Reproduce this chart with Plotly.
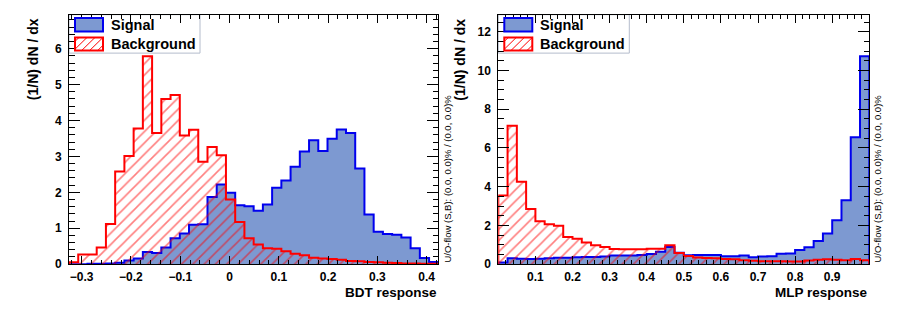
import numpy as np
import plotly.graph_objects as go

W, H = 899, 322

# ---------------- data ----------------
BDT_XMIN, BDT_XMAX = -0.3256, 0.4235
MLP_XMIN, MLP_XMAX = 0.0, 1.0
NBINS = 40

bdt_signal = [0.0, 0.0, 0.01, 0.01, 0.02, 0.04, 0.10, 0.16, 0.34, 0.31,
              0.46, 0.72, 0.85, 1.10, 1.11, 1.87, 2.22, 1.99, 1.64, 1.61,
              1.49, 1.66, 2.13, 2.33, 2.71, 3.14, 3.45, 3.15, 3.49, 3.75,
              3.65, 2.66, 1.38, 0.90, 0.84, 0.82, 0.74, 0.44, 0.17, 0.06]
bdt_background = [0.05, 0.27, 0.27, 0.46, 1.12, 2.58, 3.01, 3.78, 5.79, 3.65,
                  4.60, 4.71, 3.58, 3.74, 2.85, 3.26, 3.03, 1.80, 1.17, 0.72,
                  0.55, 0.44, 0.43, 0.36, 0.29, 0.25, 0.18, 0.16, 0.14, 0.12,
                  0.09, 0.08, 0.06, 0.05, 0.04, 0.03, 0.02, 0.02, 0.01, 0.01]

mlp_signal = [0.08, 0.30, 0.28, 0.27, 0.28, 0.30, 0.33, 0.33, 0.35, 0.37,
              0.37, 0.40, 0.44, 0.44, 0.45, 0.47, 0.52, 0.64, 0.89, 0.59,
              0.46, 0.47, 0.47, 0.47, 0.41, 0.41, 0.45, 0.35, 0.40, 0.41,
              0.54, 0.55, 0.73, 0.87, 1.20, 1.58, 2.27, 3.30, 6.56, 10.74]
mlp_background = [3.55, 7.15, 4.26, 2.85, 2.22, 2.06, 1.98, 1.40, 1.31, 1.12,
                  0.98, 0.88, 0.78, 0.77, 0.77, 0.77, 0.79, 0.80, 0.98, 0.57,
                  0.42, 0.34, 0.32, 0.30, 0.27, 0.25, 0.20, 0.17, 0.15, 0.15,
                  0.15, 0.13, 0.13, 0.19, 0.22, 0.25, 0.23, 0.20, 0.27, 0.20]

BDT_TICKS = [-0.3, -0.2, -0.1, 0.0, 0.1, 0.2, 0.3, 0.4]
BDT_TICKTEXT = ["\u22120.3", "\u22120.2", "\u22120.1", "0", "0.1", "0.2", "0.3", "0.4"]
MLP_TICKS = [0.1, 0.2, 0.3, 0.4, 0.5, 0.6, 0.7, 0.8, 0.9]
MLP_TICKTEXT = ["0.1", "0.2", "0.3", "0.4", "0.5", "0.6", "0.7", "0.8", "0.9"]

BDT_YMAX = 1.2 * max(bdt_background)
MLP_YMAX = 1.2 * max(mlp_signal)

TITLE_Y = "(1/N) dN / dx"
TITLE_BDT = "BDT response"
TITLE_MLP = "MLP response"
UOFLOW = "U/O-flow (S,B): (0.0, 0.0)% / (0.0, 0.0)%"
LEG_LABELS = ["Signal", "Background"]

SIG_FILL = "#7d99d1"
SIG_LINE = "#0000ee"
BKG_LINE = "#ff0000"
FONT = "Liberation Sans, Arial, Helvetica, sans-serif"


def step_xy(xmin, xmax, vals):
    edges = np.linspace(xmin, xmax, len(vals) + 1)
    x = [edges[0]] + list(edges) + [edges[-1]]
    y = [0.0] + list(vals) + [vals[-1], 0.0]
    return x, y


def px(xp):
    return xp / W


def py(yp):
    return 1 - yp / H


# panel geometry (pixels)
panels = [
    dict(x0=69.0, x1=438.3, xa="x", ya="y", xmin=BDT_XMIN, xmax=BDT_XMAX,
         sig=bdt_signal, bkg=bdt_background, ymax=BDT_YMAX,
         ticks=BDT_TICKS, ticktext=BDT_TICKTEXT, ydtick=1, yminor=0.2,
         xtitle=TITLE_BDT, ytitle_x=32.5, uo_x=447.5),
    dict(x0=498.3, x1=869.3, xa="x2", ya="y2", xmin=MLP_XMIN, xmax=MLP_XMAX,
         sig=mlp_signal, bkg=mlp_background, ymax=MLP_YMAX,
         ticks=MLP_TICKS, ticktext=MLP_TICKTEXT, ydtick=2, yminor=0.5,
         xtitle=TITLE_MLP, ytitle_x=460.0, uo_x=877.5),
]
FRAME_TOP, FRAME_BOT = 15.0, 270.0

fig = go.Figure()
shapes = []
annotations = []

for i, p in enumerate(panels):
    sx, sy = step_xy(p["xmin"], p["xmax"], p["sig"])
    bx, by = step_xy(p["xmin"], p["xmax"], p["bkg"])
    fig.add_trace(go.Scatter(
        x=sx, y=sy, mode="lines", xaxis=p["xa"], yaxis=p["ya"],
        line=dict(shape="hv", color=SIG_LINE, width=2),
        fill="tozeroy", fillcolor=SIG_FILL, showlegend=False, hoverinfo="skip"))
    fig.add_trace(go.Scatter(
        x=bx, y=by, mode="lines", xaxis=p["xa"], yaxis=p["ya"],
        line=dict(shape="hv", color=BKG_LINE, width=2),
        fill="tozeroy", fillcolor="rgba(0,0,0,0)",
        fillpattern=dict(shape="/", fgcolor=BKG_LINE, bgcolor="rgba(0,0,0,0)",
                         size=8, solidity=0.2, fillmode="overlay"),
        showlegend=False, hoverinfo="skip"))

    sfx = "" if i == 0 else "2"
    common = dict(showline=True, linecolor="black", linewidth=1, mirror="ticks",
                  ticks="inside", tickcolor="black", tickwidth=1,
                  showgrid=False, zeroline=False,
                  tickfont=dict(family=FONT, size=12, color="black", weight="bold"))
    fig.layout["xaxis" + sfx] = dict(
        domain=[px(p["x0"]), px(p["x1"])], range=[p["xmin"], p["xmax"]],
        anchor="y" + sfx, tickmode="array", tickvals=p["ticks"], ticktext=p["ticktext"],
        ticklen=8, ticklabelstandoff=1,
        minor=dict(dtick=0.02, tick0=0, ticklen=4, ticks="inside", tickcolor="black", tickwidth=1),
        **common)
    fig.layout["yaxis" + sfx] = dict(
        domain=[py(FRAME_BOT), py(FRAME_TOP)], range=[0, p["ymax"]],
        anchor="x" + sfx, dtick=p["ydtick"], tick0=0, ticklen=11, ticklabelstandoff=4,
        minor=dict(dtick=p["yminor"], tick0=0, ticklen=5.5, ticks="inside", tickcolor="black", tickwidth=1),
        **common)

    # axis titles
    annotations.append(dict(text=p["xtitle"], xref="paper", yref="paper",
                            x=px(p["x1"]), y=py(299.5), xanchor="right", yanchor="middle",
                            showarrow=False, borderpad=0,
                            font=dict(family=FONT, size=13.5, color="black", weight="bold")))
    annotations.append(dict(text=TITLE_Y, xref="paper", yref="paper", textangle=-90,
                            x=px(p["ytitle_x"]), y=py(17), xanchor="center", yanchor="top",
                            showarrow=False, font=dict(family=FONT, size=14, color="black", weight="bold")))
    annotations.append(dict(text=UOFLOW, xref="paper", yref="paper", textangle=-90,
                            x=px(p["uo_x"]), y=py(271), xanchor="center", yanchor="bottom",
                            showarrow=False, font=dict(family=FONT, size=9.5, color="black")))

    # legend box
    lx0 = p["x0"]
    shapes.append(dict(type="rect", xref="paper", yref="paper", layer="below",
                       x0=px(lx0), x1=px(lx0 + 131), y0=py(54.3), y1=py(FRAME_TOP),
                       fillcolor="white", line=dict(color="#b4bccc", width=1)))
    # signal swatch
    shapes.append(dict(type="rect", xref="paper", yref="paper", layer="above",
                       x0=px(lx0 + 6), x1=px(lx0 + 34), y0=py(32.3), y1=py(18.5),
                       fillcolor=SIG_FILL, line=dict(color=SIG_LINE, width=2)))
    # background swatch (hatched)
    bx0, bx1, by0, by1 = lx0 + 6, lx0 + 34, 38.3, 51.7
    shapes.append(dict(type="rect", xref="paper", yref="paper", layer="above",
                       x0=px(bx0), x1=px(bx1), y0=py(by1), y1=py(by0),
                       fillcolor="white", line=dict(color=BKG_LINE, width=2)))
    for k in np.arange(bx0 + by0 + 4, bx1 + by1, 8.0):
        xa_ = max(bx0, k - by1)
        xb_ = min(bx1, k - by0)
        if xb_ - xa_ < 0.5:
            continue
        shapes.append(dict(type="line", xref="paper", yref="paper", layer="above",
                           x0=px(xa_), y0=py(k - xa_), x1=px(xb_), y1=py(k - xb_),
                           line=dict(color=BKG_LINE, width=1)))
    for j, lab in enumerate(LEG_LABELS):
        annotations.append(dict(text=lab, xref="paper", yref="paper",
                                x=px(lx0 + 39.5), y=py([25.5, 45.0][j]), xanchor="left", yanchor="middle",
                                showarrow=False,
                                font=dict(family=FONT, size=14.5, color="black", weight="bold")))

fig.update_layout(width=W, height=H, margin=dict(l=0, r=0, t=0, b=0),
                  paper_bgcolor="white", plot_bgcolor="white",
                  shapes=shapes, annotations=annotations, showlegend=False)

fig.write_html("out.html")
